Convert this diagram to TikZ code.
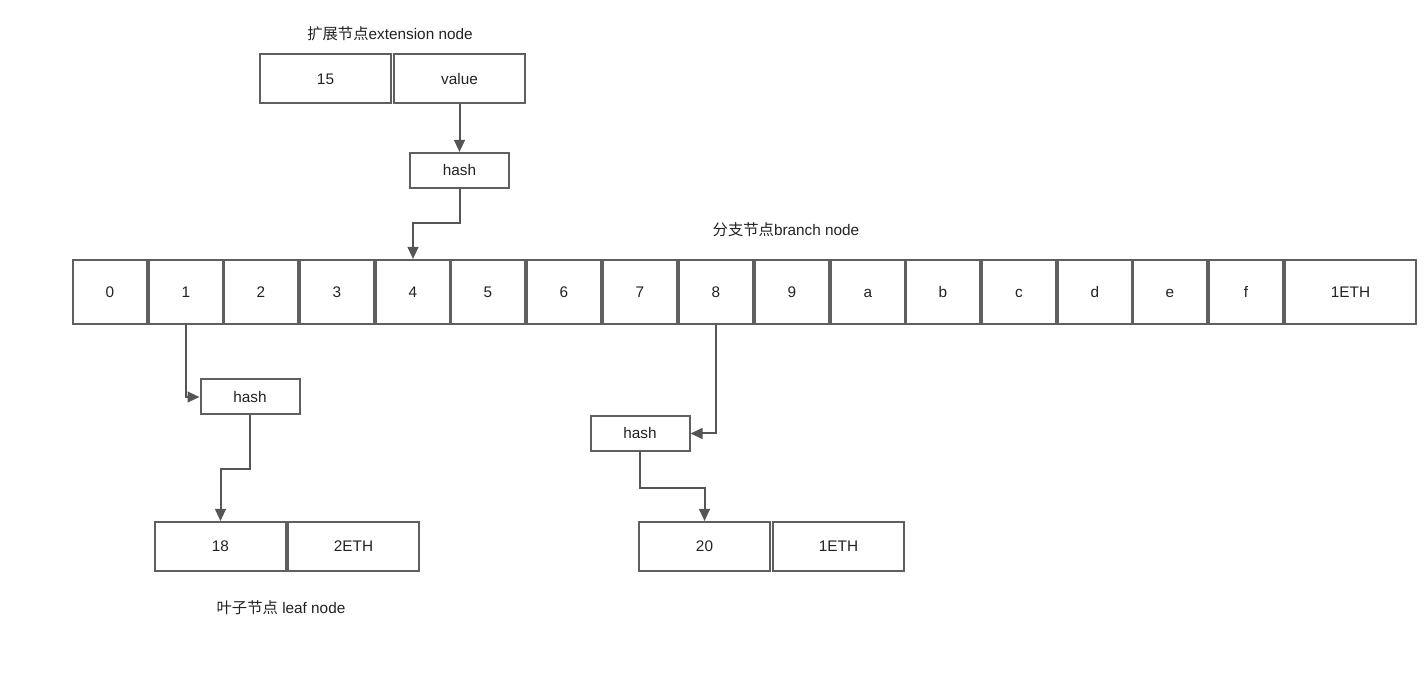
\documentclass[tikz,border=0pt]{standalone}
\usepackage{fontspec}
\setmainfont{Liberation Sans}
\newfontfamily\cjk{Noto Sans CJK SC}
\usetikzlibrary{arrows.meta}
\definecolor{edgec}{HTML}{5F5F5F}
\definecolor{linec}{HTML}{555555}
\definecolor{txtc}{HTML}{222222}
\begin{document}
\begin{tikzpicture}[x=0.75pt,y=-0.75pt,
  box/.style={draw=edgec,line width=1.5pt,fill=white,inner sep=0pt,
    text=txtc,font=\fontsize{11.5}{13}\selectfont,text height=8.2pt,text depth=0pt,
    minimum height={0.75*64pt}},
  cell/.style={box,minimum width={0.75*74pt}},
  wide/.style={box,minimum width={0.75*131pt},minimum height={0.75*49pt}},
  hbox/.style={box,minimum width={0.75*99pt},minimum height={0.75*35pt}},
  title/.style={text=txtc,font=\fontsize{11.5}{13}\selectfont,inner sep=0pt},
  arr/.style={draw=linec,line width=1.5pt,-{Triangle[length=9pt,width=8pt]}}]
\useasboundingbox (0,0) rectangle (1428,680);
% extension node
\node[title] (tExt) at (390,34) {{\cjk 扩展节点}extension node};
\node[wide] (e15) at (325.5,79) {15};
\node[wide] (eval) at (459.5,79) {value};
\node[hbox] (h1) at (459.5,170.5) {hash};
% branch node
\node[title] (tBr) at (786,230) {{\cjk 分支节点}branch node};
\foreach \l/\x in {0/73,1/149,2/224,3/300,4/376,5/451,6/527,7/603,8/679,9/755,a/831,b/906,c/982,d/1058,e/1133,f/1209}
  \node[cell] (b\l) at (\x+37,292) {\l};
\node[box,minimum width={0.75*131pt}] (bv) at (1350.5,292) {1ETH};
% left leaf
\node[hbox] (h2) at (250,397) {hash};
\node[wide] (l18) at (220.5,546.5) {18};
\node[wide] (l2e) at (353.5,546.5) {2ETH};
\node[title] (tLeaf) at (281,608) {{\cjk 叶子节点} leaf node};
% right leaf
\node[hbox] (h3) at (640,433.5) {hash};
\node[wide] (l20) at (704.5,546.5) {20};
\node[wide] (l1e) at (838.5,546.5) {1ETH};
% connectors
\draw[arr] (eval.south) -- (h1.north);
\draw[arr] (h1.south) -- ++(0,34) -| (b4.north);
\draw[arr] (b1.south) |- (h2.west);
\draw[arr] (h2.south) -- ++(0,54) -| (l18.north);
\draw[arr] (b8.south) |- (h3.east);
\draw[arr] (h3.south) -- ++(0,36) -| (l20.north);
\end{tikzpicture}
\end{document}
